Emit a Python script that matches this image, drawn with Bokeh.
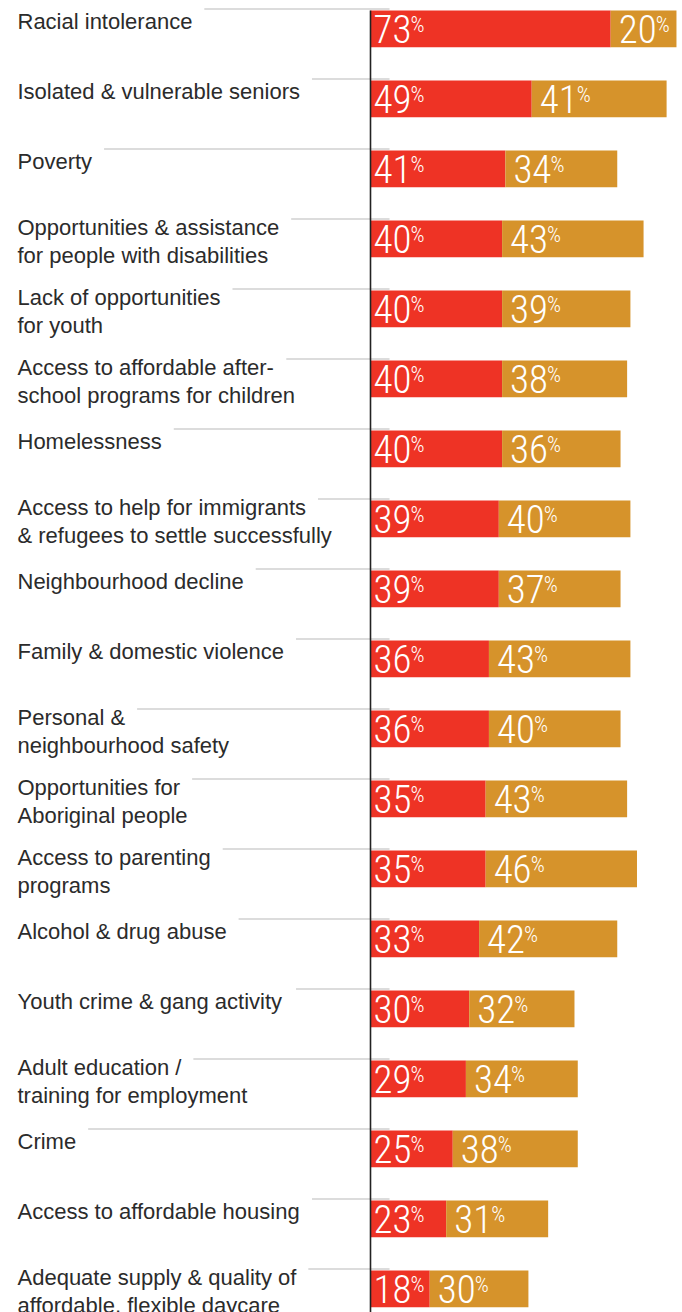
from bokeh.plotting import figure
from bokeh.models import ColumnDataSource, Range1d
from bokeh.core.properties import value
from bokeh.embed import file_html
from bokeh.resources import INLINE

# ---------------- data ----------------
categories = [
    "Racial intolerance",
    "Isolated & vulnerable seniors",
    "Poverty",
    "Opportunities & assistance\nfor people with disabilities",
    "Lack of opportunities\nfor youth",
    "Access to affordable after-\nschool programs for children",
    "Homelessness",
    "Access to help for immigrants\n& refugees to settle successfully",
    "Neighbourhood decline",
    "Family & domestic violence",
    "Personal &\nneighbourhood safety",
    "Opportunities for\nAboriginal people",
    "Access to parenting\nprograms",
    "Alcohol & drug abuse",
    "Youth crime & gang activity",
    "Adult education /\ntraining for employment",
    "Crime",
    "Access to affordable housing",
    "Adequate supply & quality of\naffordable, flexible daycare",
]
major_problem = [73, 49, 41, 40, 40, 40, 40, 39, 39, 36, 36, 35, 35, 33, 30, 29, 25, 23, 18]
moderate_problem = [20, 41, 34, 43, 39, 38, 36, 40, 37, 43, 40, 43, 46, 42, 32, 34, 38, 31, 30]

# ---------------- layout constants ----------------
W, H = 682, 1312
PX_PER_PCT = 3.29
AXIS_X = 370
ROW_PX = 70
ROW0_CENTER = 28.35
BAR_PX = 36.7
RED = "#EE3325"
GOLD = "#D6932B"
LABEL_FONT = "Liberation Sans"
LABEL_SIZE = 22
NUM_FONT = "'Roboto Condensed Light', 'Roboto Condensed', 'Liberation Sans Narrow', sans-serif"
NUM_SIZE = 39
PCT_SIZE = 22
BASE_FIX = -0.35   # em correction for the alphabetic baseline

ARIAL = {' ': 278, '&': 667, '-': 333, '/': 278, ',': 278, '.': 278,
         'A': 667, 'C': 722, 'F': 611, 'H': 722, 'I': 278, 'L': 556, 'N': 722,
         'O': 778, 'P': 667, 'R': 722, 'Y': 667,
         'a': 556, 'b': 556, 'c': 500, 'd': 556, 'e': 556, 'f': 278, 'g': 556,
         'h': 556, 'i': 222, 'j': 222, 'k': 500, 'l': 222, 'm': 833, 'n': 556,
         'o': 556, 'p': 556, 'q': 556, 'r': 333, 's': 500, 't': 278, 'u': 556,
         'v': 500, 'w': 722, 'x': 500, 'y': 500, 'z': 500}


def text_px(s, size):
    return sum(ARIAL.get(c, 556) for c in s) / 1000.0 * size


def px2pct(px_from_axis):
    return px_from_axis / PX_PER_PCT


rows = list(range(len(categories)))

p = figure(width=W, height=H,
           x_range=Range1d(-AXIS_X / PX_PER_PCT, (W - AXIS_X) / PX_PER_PCT),
           y_range=Range1d((H - ROW0_CENTER) / ROW_PX, -ROW0_CENTER / ROW_PX),
           output_backend="svg", toolbar_location=None, min_border=0)
p.axis.visible = False
p.grid.visible = False
p.outline_line_color = None

# ---------------- leader lines ----------------
label_x = px2pct(17 - AXIS_X)
lx0, lx1, ly = [], [], []
for i, c in zip(rows, categories):
    first = c.split("\n")[0]
    end_px = 17 + text_px(first, LABEL_SIZE) + 12
    lx0.append(px2pct(end_px - AXIS_X))
    lx1.append(px2pct(19))
    ly.append(i - 19.85 / ROW_PX)
p.segment(x0=lx0, x1=lx1, y0=ly, y1=ly, line_color="#D0D0D0", line_width=1.5)

# ---------------- bars ----------------
right_b = [a + b for a, b in zip(major_problem, moderate_problem)]
src = ColumnDataSource(dict(y=rows, zero=[0] * len(rows), a=major_problem, ab=right_b))
p.hbar(y="y", left="zero", right="a", height=BAR_PX / ROW_PX, source=src,
       fill_color=RED, line_color=None)
p.hbar(y="y", left="a", right="ab", height=BAR_PX / ROW_PX, source=src,
       fill_color=GOLD, line_color=None)

# ---------------- axis line ----------------
p.segment(x0=[0], x1=[0], y0=[-BAR_PX / 2 / ROW_PX], y1=[18.6],
          line_color="#222222", line_width=1.6)

# ---------------- category labels ----------------
tx, ty, tt, toff = [], [], [], []
for i, c in zip(rows, categories):
    lines = c.split("\n")
    offs = [0.0] if len(lines) == 1 else [-3.65, 24.0]
    for ln, o in zip(lines, offs):
        tx.append(label_x)
        ty.append(i)
        tt.append(ln)
        toff.append(o + BASE_FIX * LABEL_SIZE)
p.text(x=tx, y=ty, text=tt, y_offset=toff, text_font=value(LABEL_FONT),
       text_font_size=f"{LABEL_SIZE}px", text_color="#2B2B2B",
       text_baseline="alphabetic", text_align="left")


# ---------------- value labels ----------------
def value_labels(starts, vals, xoff):
    s = ColumnDataSource(dict(x=starts, y=rows, t=[str(v) for v in vals],
                              pc=["%"] * len(vals)))
    p.text(x="x", y="y", text="t", source=s, x_offset=xoff,
           y_offset=13.35 + BASE_FIX * NUM_SIZE,
           text_font=value(NUM_FONT), text_font_size=f"{NUM_SIZE}px",
           text_color="white", text_baseline="alphabetic", text_align="left")
    p.text(x="x", y="y", text="pc", source=s, x_offset=xoff + 37.0,
           y_offset=3.6 + BASE_FIX * PCT_SIZE,
           text_font=value(NUM_FONT), text_font_size=f"{PCT_SIZE}px",
           text_color="white", text_baseline="alphabetic", text_align="left")


value_labels([0] * len(rows), major_problem, 3)
value_labels(major_problem, moderate_problem, 8)

open("out.html", "w").write(file_html(p, INLINE))
